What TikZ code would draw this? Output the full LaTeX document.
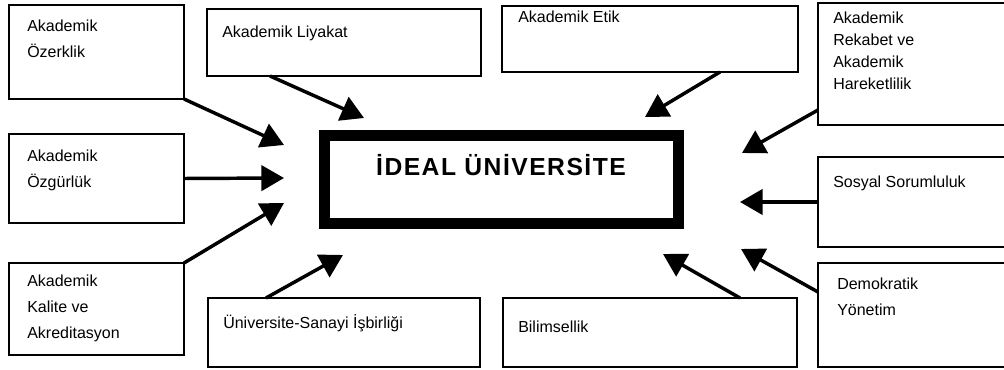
\documentclass[tikz,border=0pt]{standalone}
\usepackage{fontspec}
\setmainfont{Liberation Sans}
\newfontfamily\titlefont[LetterSpace=6]{Liberation Sans}
\usetikzlibrary{arrows.meta,calc}

% a framed box given by its top-left and bottom-right corners (in px units)
\newcommand\pbox[5]{%
  \node[box, minimum width={(#4-#2)*0.75pt}, minimum height={(#5-#3)*0.75pt}] (#1) at (#2,#3) {};}

\begin{document}
\begin{tikzpicture}[x=0.75pt,y=-0.75pt,
  box/.style={draw=black, line width=1.1pt, rectangle, inner sep=0pt, outer sep=0pt, anchor=north west},
  % multi-line labels are placed by the baseline of their last line
  lbl/.style={anchor=base west, inner sep=0pt, align=left, font=\fontsize{12}{19.5}\selectfont},
  lblnarrow/.style={lbl, font=\fontsize{12}{16.7}\selectfont},
  arr/.style={line width=2.6pt, -{Triangle[length=17pt,width=19pt]}}]
\useasboundingbox (0,0) rectangle (1004,370);
\clip (0,0) rectangle (1004,370);

% central box
\node[box, line width=8.25pt, minimum width=265.5pt, minimum height=66pt] (ideal) at (324,136) {};
\node[anchor=base, inner sep=0pt, font=\titlefont\bfseries\fontsize{18.5}{22}\selectfont] (title) at (501,176) {İDEAL ÜNİVERSİTE};

% surrounding boxes
\pbox{ozk}{9}{5}{184}{99}
\pbox{ozg}{9}{134}{184}{223}
\pbox{kal}{9}{263}{184}{355}
\pbox{liy}{207}{9}{481}{76}
\pbox{usi}{208}{298}{480}{367}
\pbox{etk}{502}{6}{798}{72}
\pbox{bil}{503}{298}{797}{367}
\pbox{rek}{818}{3}{1012}{125}
\pbox{sos}{818}{157}{1012}{247}
\pbox{dem}{818}{263}{1012}{367}

% box texts
\node[lbl] (ozk-t) at (27,58) {Akademik\\Özerklik};
\node[lbl] (ozg-t) at (27,188) {Akademik\\Özgürlük};
\node[lbl] (kal-t) at (27,339) {Akademik\\Kalite ve\\Akreditasyon};
\node[lbl] (liy-t) at (222,38) {Akademik Liyakat};
\node[lbl] (usi-t) at (223,329) {Üniversite-Sanayi İşbirliği};
\node[lbl] (etk-t) at (518,23) {Akademik Etik};
\node[lbl] (bil-t) at (518,333) {Bilimsellik};
\node[lblnarrow] (rek-t) at (833,90) {Akademik\\Rekabet ve\\Akademik\\Hareketlilik};
\node[lbl] (sos-t) at (833,188) {Sosyal Sorumluluk};
\node[lbl] (dem-t) at (837,316) {Demokratik\\Yönetim};

% arrow tips around the central box
\coordinate (t1) at (284,145);
\coordinate (t2) at (364,118);
\coordinate (t3) at (284,178);
\coordinate (t4) at (284,203);
\coordinate (t5) at (343,255);
\coordinate (t6) at (663,254);
\coordinate (t7) at (741,249);
\coordinate (t8) at (740,202);
\coordinate (t9) at (742,153);
\coordinate (t10) at (645,117);

% connectors
\draw[arr] (ozk.south east) -- (t1);
\draw[arr] ($(liy.south west)+(63,0)$) -- (t2);
\draw[arr] (ozg.east) -- (t3);
\draw[arr] (kal.north east) -- (t4);
\draw[arr] ($(usi.north west)+(58,0)$) -- (t5);
\draw[arr] ($(bil.north west)+(237,0)$) -- (t6);
\draw[arr] ($(dem.north west)+(0,29)$) -- (t7);
\draw[arr] (sos.west) -- (t8);
\draw[arr] ($(rek.north west)+(0,107)$) -- (t9);
\draw[arr] ($(etk.south west)+(218,0)$) -- (t10);
\end{tikzpicture}
\end{document}
